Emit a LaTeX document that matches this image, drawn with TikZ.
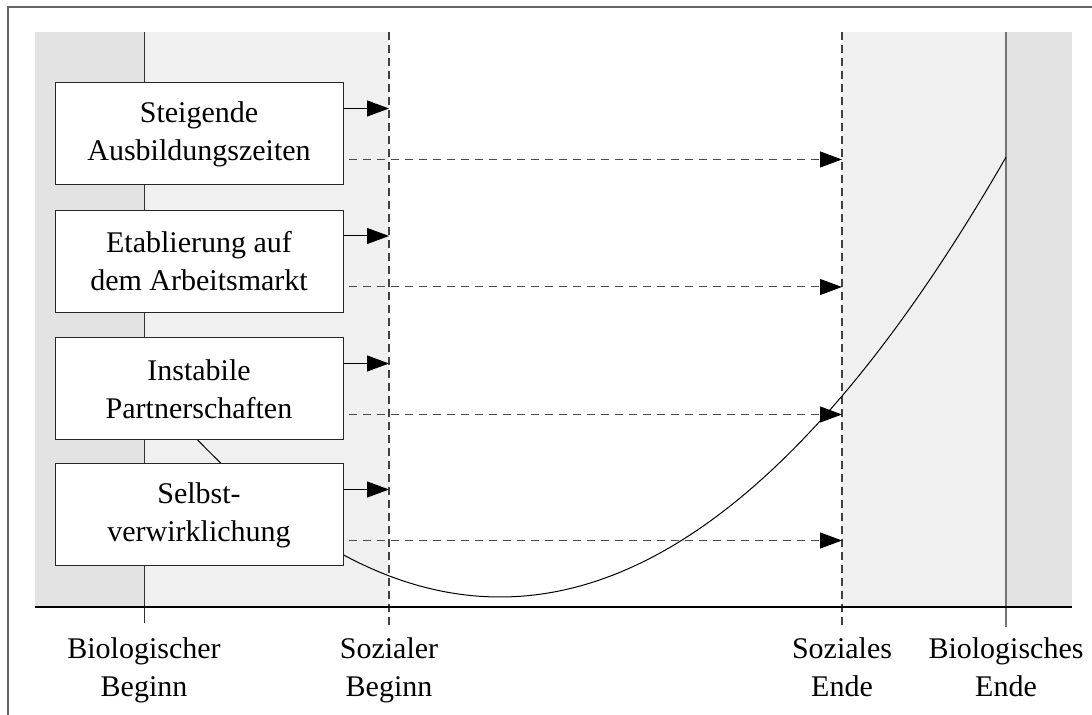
\documentclass[tikz,border=0pt]{standalone}
\usepackage{fontspec}
\setmainfont{Liberation Serif}
\usetikzlibrary{arrows.meta}
\definecolor{darkbg}{HTML}{E3E3E3}
\definecolor{lightbg}{HTML}{F0F0F0}
\definecolor{dashgray}{HTML}{4A4A4A}
\definecolor{framegray}{HTML}{666666}
\tikzset{
  txt/.style={font=\fontsize{15pt}{19pt}\selectfont, align=center},
  box/.style={txt, draw=black!85, fill=white, line width=0.5pt, minimum width=144pt, minimum height=51pt, inner sep=0pt},
  tip/.style={-{Triangle[length=11pt,width=8pt,color=black]}},
  solidarrow/.style={tip, black, line width=0.5pt},
  dasharrow/.style={tip, dashgray, line width=0.5pt, dash pattern=on 4pt off 3pt},
  vdash/.style={black!75, line width=0.6pt, dash pattern=on 4pt off 2.5pt},
  lab/.style={txt, anchor=north, inner sep=0pt}
}
\begin{document}
\begin{tikzpicture}[x=0.5pt,y=-0.5pt]
\useasboundingbox (0,0) rectangle (1092,715);
% outer frame
\draw[framegray, line width=0.6pt] (8,715) -- (8,7) -- (1092,7);
% shaded bands
\fill[darkbg] (35,32) rectangle (144,607);
\fill[lightbg] (144,32) rectangle (389,607);
\fill[lightbg] (842,32) rectangle (1006,607);
\fill[darkbg] (1006,32) rectangle (1072,607);
% named coordinates
\coordinate (bbtop) at (144,32);
\coordinate (bbbot) at (144,623);
\coordinate (sbtop) at (389,32);
\coordinate (sbbot) at (389,625);
\coordinate (setop) at (842,32);
\coordinate (sebot) at (842,626);
\coordinate (betop) at (1006,32);
\coordinate (bebot) at (1006,627);
\coordinate (axl) at (35,607);
\coordinate (axr) at (1072,607);
% vertical lines
\draw[black!80, line width=0.5pt] (bbtop) -- (bbbot);
\draw[black!55, line width=1pt] (betop) -- (bebot);
\draw[vdash] (sbtop) -- (sbbot);
\draw[vdash] (setop) -- (sebot);
% axis
\draw[black, line width=0.6pt] (axl) -- (axr);
% curve
\draw[black, line width=0.5pt] plot[domain=170:1006, samples=120] (\x, {597-17.18*((\x-500)/100)^2});
% boxes
\node[box] (b1) at (199,134) {Steigende\\Ausbildungszeiten};
\node[box] (b2) at (199,261.5) {Etablierung auf\\dem Arbeitsmarkt};
\node[box] (b3) at (199,389) {Instabile\\Partnerschaften};
\node[box] (b4) at (199,515) {Selbst-\\verwirklichung};
% arrows
\foreach \b in {b1,b2,b3,b4}{
  \draw[solidarrow] ([yshift=12.75pt]\b.east) -- ([yshift=12.75pt]\b.east -| sbtop);
  \draw[dasharrow] ([yshift=-12.75pt,xshift=2.5pt]\b.east) -- ([yshift=-12.75pt]\b.east -| setop);
}
% labels
\node[lab] (l1) at (144,637) {Biologischer\\Beginn};
\node[lab] (l2) at (389,637) {Sozialer\\Beginn};
\node[lab] (l3) at (842,637) {Soziales\\Ende};
\node[lab] (l4) at (1006,637) {Biologisches\\Ende};
\end{tikzpicture}
\end{document}
